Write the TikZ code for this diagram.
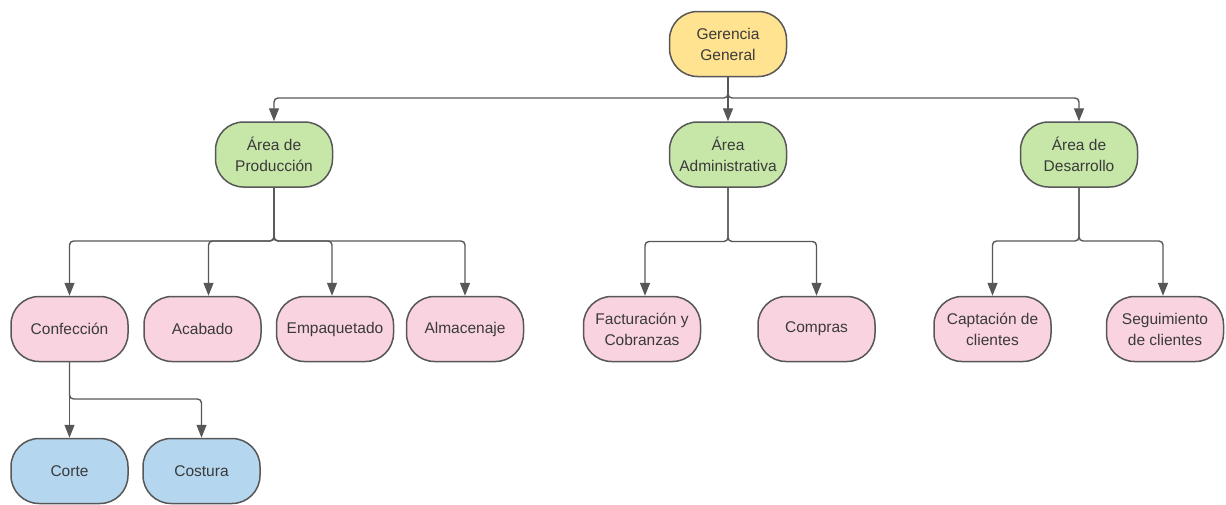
\documentclass[tikz,border=0pt]{standalone}
\usepackage{fontspec}
\setmainfont{Liberation Sans}
\usetikzlibrary{arrows.meta,calc}

\definecolor{edgegray}{HTML}{575757}
\definecolor{inkgray}{HTML}{3A3A3A}
\definecolor{fillyellow}{HTML}{FFE390}
\definecolor{fillgreen}{HTML}{C7E7A9}
\definecolor{fillpink}{HTML}{F9D3DF}
\definecolor{fillblue}{HTML}{B5D6EF}

\tikzset{
  unit/.style={draw=edgegray, line width=1.5pt, rounded corners=28pt,
    minimum width=117pt, minimum height=65pt, inner sep=0pt,
    align=center, text=inkgray, font=\fontsize{15.5}{21}\selectfont},
  topunit/.style={unit, fill=fillyellow},
  areaunit/.style={unit, fill=fillgreen},
  subunit/.style={unit, fill=fillpink},
  taskunit/.style={unit, fill=fillblue},
  conn/.style={draw=edgegray, line width=1.4pt, rounded corners=4pt,
    -{Triangle[length=13pt,width=10pt]}}
}

\begin{document}
\begin{tikzpicture}[x=1pt,y=-1pt]
\useasboundingbox (0,0) rectangle (1226,504);

% top management
\node[topunit] (ger) at (728,44) {Gerencia\\General};

% areas
\node[areaunit] (prod) at (274,154.5) {Área de\\Producción};
\node[areaunit] (adm)  at (728,154.5) {Área\\Administrativa};
\node[areaunit] (des)  at (1079,154.5) {Área de\\Desarrollo};

% departments
\node[subunit] (conf) at (69.5,329) {Confección};
\node[subunit] (acab) at (202.5,329) {Acabado};
\node[subunit] (emp)  at (335,329) {Empaquetado};
\node[subunit] (alm)  at (465,329) {Almacenaje};
\node[subunit] (fac)  at (642,329) {Facturación y\\Cobranzas};
\node[subunit] (comp) at (816.5,329) {Compras};
\node[subunit] (cap)  at (992.5,329) {Captación de\\clientes};
\node[subunit] (seg)  at (1165,329) {Seguimiento\\de clientes};

% tasks under Confección
\node[taskunit] (corte) at (69.5,471) {Corte};
\node[taskunit] (cost)  at (201.5,471) {Costura};

% bus levels
\coordinate (busG) at (728,98);
\coordinate (busP) at (274,241);
\coordinate (busA) at (728,241.5);
\coordinate (busD) at (1079,241);
\coordinate (busC) at (69.5,399);

% connectors from Gerencia General
\draw[conn] (ger.south) -- (ger.south |- busG) -| (prod.north);
\draw[conn] (ger.south) -- (adm.north);
\draw[conn] (ger.south) -- (ger.south |- busG) -| (des.north);

% connectors from Área de Producción
\draw[conn] (prod.south) -- (prod.south |- busP) -| (conf.north);
\draw[conn] (prod.south) -- (prod.south |- busP) -| ($(acab.north)+(6,0)$);
\draw[conn] (prod.south) -- (prod.south |- busP) -| ($(emp.north)+(-3,0)$);
\draw[conn] (prod.south) -- (prod.south |- busP) -| (alm.north);

% connectors from Área Administrativa
\draw[conn] (adm.south) -- (adm.south |- busA) -| ($(fac.north)+(3,0)$);
\draw[conn] (adm.south) -- (adm.south |- busA) -| (comp.north);

% connectors from Área de Desarrollo
\draw[conn] (des.south) -- (des.south |- busD) -| (cap.north);
\draw[conn] (des.south) -- (des.south |- busD) -| ($(seg.north)+(-2,0)$);

% connectors from Confección
\draw[conn] (conf.south) -- (corte.north);
\draw[conn] (conf.south) -- (conf.south |- busC) -| (cost.north);
\end{tikzpicture}
\end{document}
